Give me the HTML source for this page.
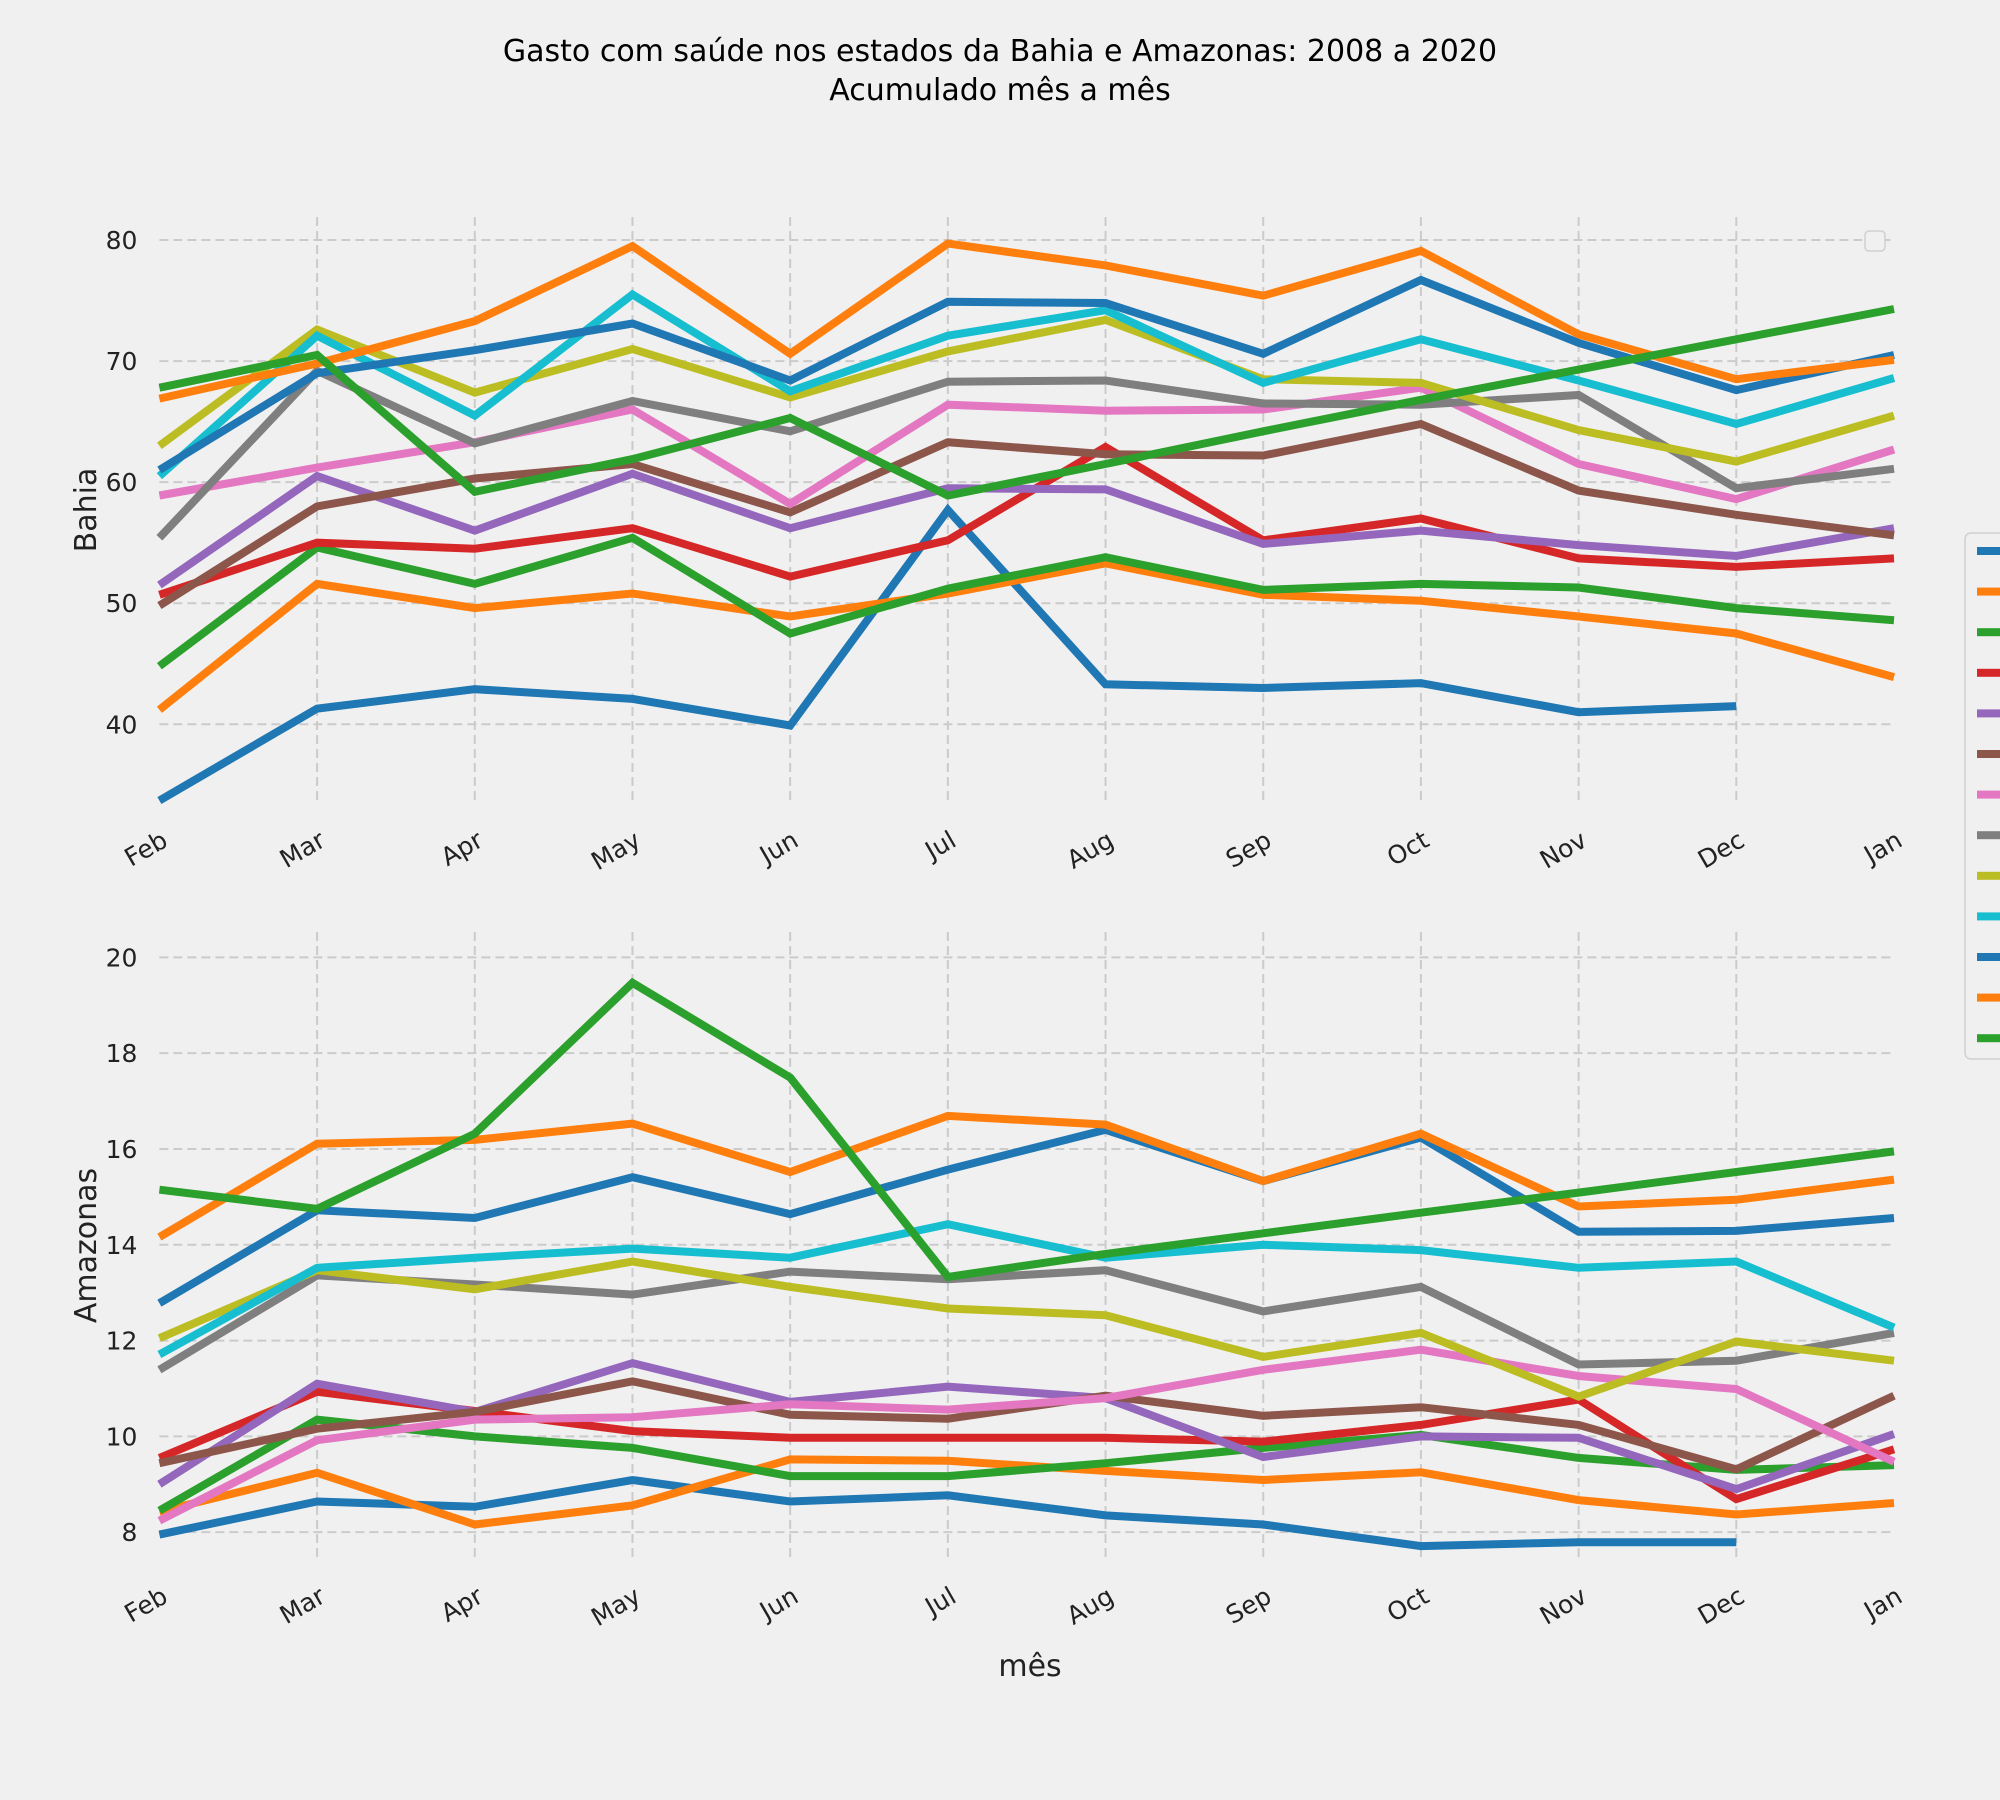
<!DOCTYPE html>
<html><head><meta charset="utf-8"><style>
html,body{margin:0;padding:0;background:#f0f0f0;}
svg{display:block;font-family:"DejaVu Sans","Liberation Sans",sans-serif;}
</style></head><body>
<svg id="chart" width="2000" height="1800" xmlns="http://www.w3.org/2000/svg">
<rect width="2000" height="1800" fill="#f0f0f0"/>
<text x="1000" y="61" text-anchor="middle" font-size="30">Gasto com saúde nos estados da Bahia e Amazonas: 2008 a 2020</text>
<text x="1000" y="100" text-anchor="middle" font-size="30">Acumulado mês a mês</text>
<g id="g"></g>
</svg>
<script>
const months = ["Feb","Mar","Apr","May","Jun","Jul","Aug","Sep","Oct","Nov","Dec","Jan"];
const years = ["2008","2009","2010","2011","2012","2013","2014","2015","2016","2017","2018","2019","2020"];
const colors = ["#1f77b4","#ff7f0e","#2ca02c","#d62728","#9467bd","#8c564b","#e377c2","#7f7f7f","#bcbd22","#17becf","#1f77b4","#ff7f0e","#2ca02c"];
const bahiaTicks = [40,50,60,70,80];
const amazTicks = [8,10,12,14,16,18,20];
const bahia = [
[33.7,41.3,42.9,42.1,39.9,57.7,43.3,43.0,43.4,41.0,41.5,null],
[41.2,51.6,49.6,50.8,48.9,50.8,53.3,50.7,50.2,48.9,47.5,43.9],
[44.8,54.6,51.6,55.4,47.5,51.2,53.8,51.1,51.6,51.3,49.6,48.6],
[50.7,55.0,54.5,56.2,52.2,55.2,62.9,55.2,57.0,53.7,53.0,53.7],
[51.5,60.5,56.0,60.7,56.2,59.5,59.4,54.9,56.0,54.8,53.9,56.2],
[49.8,58.0,60.3,61.5,57.5,63.3,62.3,62.2,64.8,59.3,57.3,55.6],
[58.9,61.2,63.3,66.0,58.2,66.4,65.9,66.0,67.8,61.5,58.6,62.7],
[55.4,69.2,63.2,66.7,64.2,68.3,68.4,66.5,66.4,67.2,59.5,61.1],
[63.0,72.6,67.4,71.0,67.0,70.8,73.4,68.5,68.2,64.3,61.7,65.5],
[60.5,72.1,65.5,75.5,67.5,72.1,74.2,68.2,71.8,68.4,64.8,68.6],
[61.0,69.0,70.9,73.1,68.4,74.9,74.8,70.6,76.7,71.5,67.6,70.5],
[66.9,69.8,73.3,79.5,70.6,79.7,77.9,75.4,79.1,72.2,68.5,70.1],
[67.8,70.5,59.2,61.9,65.3,58.9,61.5,64.2,66.8,69.3,71.8,74.3]
];
const amazonas = [
[7.95,8.64,8.53,9.09,8.64,8.77,8.35,8.16,7.71,7.79,7.79,null],
[8.43,9.24,8.16,8.56,9.52,9.49,9.28,9.09,9.25,8.67,8.37,8.61],
[8.45,10.35,10.0,9.76,9.17,9.17,9.44,9.76,10.03,9.55,9.3,9.4],
[9.55,10.93,10.53,10.11,9.97,9.97,9.97,9.89,10.24,10.77,8.69,9.73],
[9.0,11.1,10.51,11.53,10.72,11.04,10.8,9.57,10.0,9.97,8.9,10.05],
[9.44,10.16,10.51,11.15,10.45,10.37,10.85,10.43,10.61,10.24,9.31,10.85],
[8.24,9.92,10.35,10.4,10.67,10.56,10.8,11.39,11.81,11.26,10.99,9.47],
[11.39,13.36,13.17,12.96,13.44,13.28,13.47,12.61,13.12,11.5,11.58,12.16],
[12.05,13.47,13.07,13.65,13.12,12.67,12.53,11.66,12.16,10.83,11.98,11.58],
[11.71,13.52,13.73,13.92,13.73,14.43,13.73,14.0,13.89,13.52,13.65,12.27],
[12.78,14.72,14.56,15.41,14.64,15.57,16.4,15.33,16.24,14.27,14.29,14.56],
[14.16,16.11,16.19,16.53,15.52,16.69,16.51,15.33,16.32,14.8,14.94,15.36],
[15.15,14.75,16.32,19.47,17.49,13.33,13.81,14.24,14.67,15.09,15.52,15.95]
];
const NS="http://www.w3.org/2000/svg";
const g=document.getElementById('g');
function mk(t,a,p){const e=document.createElementNS(NS,t);for(const k in a)e.setAttribute(k,a[k]);(p||g).appendChild(e);return e;}
const x0=159.4,x1=1894;
function xs(i){return x0+(x1-x0)*i/(months.length-1);}
function panel(name,data,ticks,ymin,ymax,top,bot,label){
  const ys=v=>bot-(v-ymin)/(ymax-ymin)*(bot-top);
  const pg=mk('g',{});
  
  
  ticks.forEach(t=>{
    const y=ys(t);
    const l=mk('line',{x1:x0,x2:x1,y1:y,y2:y,stroke:'#cbcbcb','stroke-width':2,'stroke-dasharray':'9,5'},pg);
    
    
    const tx=mk('text',{x:x0-22,y:y+9,'text-anchor':'end','font-size':25,fill:'#222'},pg);
    tx.textContent=t;
    
    
  });
  months.forEach((m,i)=>{
    const x=xs(i);
    if(i>0&&i<months.length-1){
      const l=mk('line',{x1:x,x2:x,y1:top,y2:bot,stroke:'#cbcbcb','stroke-width':2,'stroke-dasharray':'9,5'},pg);
      
      
    }
    const tx=mk('text',{x:x+10,y:bot+42,'text-anchor':'end','font-size':25,fill:'#222',transform:`rotate(-30 ${x+10} ${bot+42})`},pg);
    tx.textContent=m;
    
    
  });
  data.forEach((s,k)=>{
    let d='';let first=true;
    s.forEach((v,i)=>{if(v==null)return;d+=(first?'M':'L')+xs(i).toFixed(1)+','+ys(v).toFixed(1);first=false;});
    const p=mk('path',{d:d,fill:'none',stroke:colors[k],'stroke-width':8,'stroke-linejoin':'miter'},pg);
    
    
  });
  const yl=mk('text',{x:96,y:(top+bot)/2,'text-anchor':'middle','font-size':30,fill:'#222',transform:`rotate(-90 96 ${(top+bot)/2})`},pg);
  yl.textContent=label;
  
  
}
panel('bahia',bahia,bahiaTicks,33.5,81.9,217,803,'Bahia');
panel('amazonas',amazonas,amazTicks,7.44,20.53,932,1559,'Amazonas');
const xl=mk('text',{x:1030,y:1676,'text-anchor':'middle','font-size':30,fill:'#222'});
xl.textContent='mês';


const el=mk('rect',{x:1865,y:231,width:20,height:20,rx:4,fill:'#f0f0f0',stroke:'#d0d0d0','stroke-width':1.5});


const lg=mk('rect',{x:1965,y:533,width:60,height:526,rx:6,fill:'#f0f0f0',stroke:'#d0d0d0','stroke-width':1.5});


years.forEach((yr,k)=>{
  const y=551+k*40.6;
  const sw=mk('rect',{x:1977,y:y-4,width:30,height:8,fill:colors[k]});
  
  
});
</script>
</body></html>
